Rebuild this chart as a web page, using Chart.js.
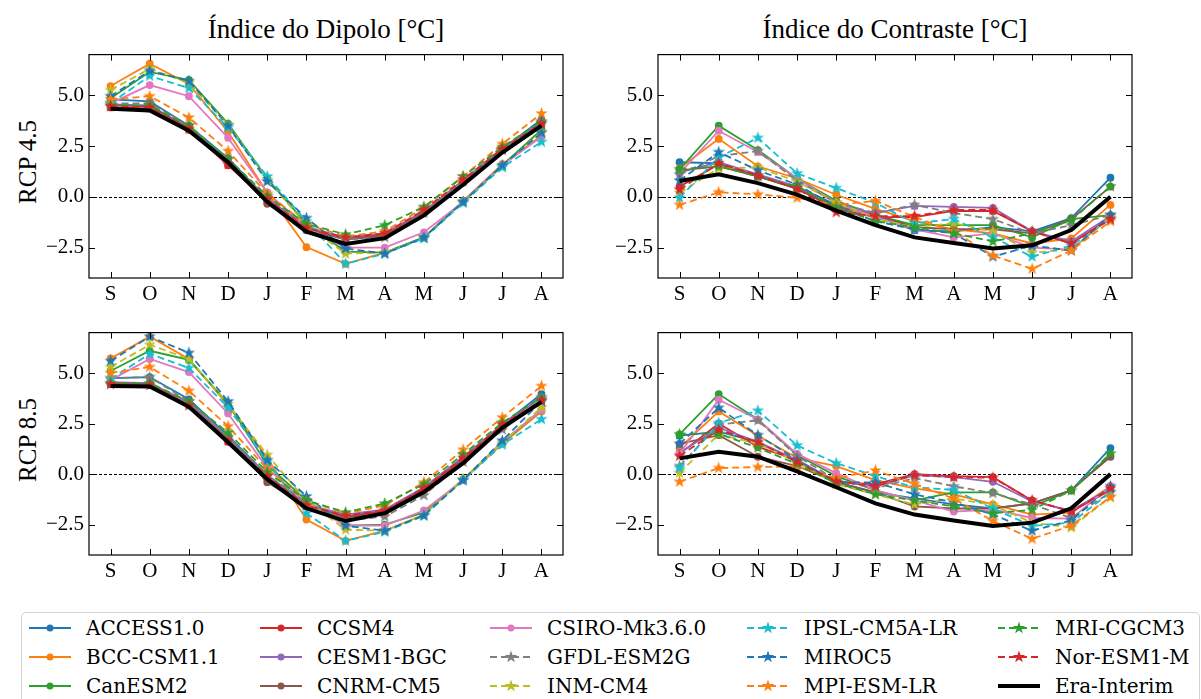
<!DOCTYPE html>
<html lang="pt">
<head>
<meta charset="UTF-8">
<title>Índice do Dipolo e Índice do Contraste</title>
<style>
  body { margin: 0; background: #fff; width: 1201px; height: 699px; overflow: hidden; position: relative; font-family: "Liberation Serif", serif; color: #000; }
  canvas.panel { position: absolute; }
  .title { position: absolute; top: 12px; font-size: 27px; line-height: 34px; text-align: center; white-space: nowrap; }
  .rowlab { position: absolute; font-size: 25px; white-space: nowrap; transform: translate(-50%, -50%) rotate(-90deg); }
  #legend { position: absolute; left: 21px; top: 612px; width: 1177px; height: 110px; border: 1px solid #d3d3d3; border-radius: 5px; font-family: "DejaVu Serif", serif; font-size: 20px; }
  .item { position: absolute; display: flex; align-items: center; height: 26px; white-space: nowrap; }
  .item span { margin-left: 15px; }
</style>
</head>
<body>
<script src="https://cdn.jsdelivr.net/npm/chart.js"></script>

<div class="title" style="left:89px; width:474px;">Índice do Dipolo [°C]</div>
<div class="title" style="left:658px; width:474px;">Índice do Contraste [°C]</div>
<div class="rowlab" style="left:28px; top:162px;">RCP 4.5</div>
<div class="rowlab" style="left:28px; top:440px;">RCP 8.5</div>
<div id="legend"></div>

<script>
// months (x tick labels) and y ticks
const months = ['S', 'O', 'N', 'D', 'J', 'F', 'M', 'A', 'M', 'J', 'J', 'A'];
const yTicks = [-2.5, 0, 2.5, 5];

const models = ['ACCESS1.0', 'BCC-CSM1.1', 'CanESM2', 'CCSM4', 'CESM1-BGC', 'CNRM-CM5',
  'CSIRO-Mk3.6.0', 'GFDL-ESM2G', 'INM-CM4', 'IPSL-CM5A-LR', 'MIROC5', 'MPI-ESM-LR',
  'MRI-CGCM3', 'Nor-ESM1-M', 'Era-Interim'];
const colors = ['#1f77b4', '#ff7f0e', '#2ca02c', '#d62728', '#9467bd', '#8c564b',
  '#e377c2', '#7f7f7f', '#bcbd22', '#17becf', '#1f77b4', '#ff7f0e',
  '#2ca02c', '#d62728', '#000000'];
// 'dot' = solid line with dots, 'star' = dashed line with stars, 'ref' = reanalysis
const kinds = ['dot', 'dot', 'dot', 'dot', 'dot', 'dot', 'dot',
  'star', 'star', 'star', 'star', 'star', 'star', 'star', 'ref'];

// one row per model, same order as models[]
const dipoloRcp45 = [
  [4.80, 4.70, 3.50, 1.90, -0.10, -1.50, -2.10, -1.90, -0.75, 0.80, 2.35, 3.80],
  [5.45, 6.55, 5.55, 3.20, 0.20, -2.48, -3.30, -2.75, -2.00, -0.20, 1.60, 3.00],
  [4.85, 6.15, 5.75, 3.60, 0.90, -1.35, -2.70, -2.75, -2.00, -0.25, 1.55, 3.30],
  [4.40, 4.35, 3.30, 1.55, -0.20, -1.60, -2.05, -1.85, -0.75, 0.75, 2.30, 3.60],
  [4.55, 4.50, 3.40, 1.80, -0.10, -1.50, -2.00, -1.80, -0.70, 0.80, 2.40, 3.70],
  [4.50, 4.45, 3.40, 1.75, -0.35, -1.65, -2.10, -1.95, -0.80, 0.70, 2.30, 3.60],
  [4.60, 5.50, 4.95, 2.90, 0.20, -1.50, -2.50, -2.50, -1.75, -0.25, 1.55, 2.95],
  [4.60, 4.60, 3.50, 1.85, 0.00, -1.45, -2.10, -2.00, -0.80, 0.75, 2.30, 3.65],
  [5.25, 6.30, 5.60, 3.55, 0.85, -1.40, -2.80, -2.75, -2.00, -0.25, 1.50, 3.20],
  [4.60, 5.95, 5.35, 3.40, 1.00, -1.20, -3.30, -2.80, -2.05, -0.30, 1.45, 2.70],
  [4.95, 6.20, 5.70, 3.50, 0.75, -1.05, -2.55, -2.80, -2.00, -0.25, 1.55, 3.15],
  [4.80, 4.95, 3.90, 2.25, 0.15, -1.35, -1.95, -1.70, -0.55, 1.00, 2.60, 4.10],
  [4.50, 4.50, 3.50, 1.85, 0.05, -1.35, -1.85, -1.40, -0.50, 1.00, 2.45, 3.70],
  [4.45, 4.40, 3.35, 1.60, -0.10, -1.55, -2.00, -1.80, -0.65, 0.85, 2.35, 3.60],
  [4.33, 4.25, 3.25, 1.70, -0.25, -1.72, -2.32, -2.04, -0.92, 0.59, 2.18, 3.50]
];

const contrasteRcp45 = [
  [1.70, 1.65, 1.00, 0.50, -0.40, -0.95, -1.65, -1.70, -1.50, -1.70, -1.05, 0.94],
  [1.40, 2.85, 1.50, 0.90, 0.10, -0.60, -1.20, -1.60, -1.80, -2.30, -2.05, -0.40],
  [1.35, 3.50, 2.30, 0.90, -0.20, -0.90, -1.40, -1.40, -1.40, -2.00, -1.10, -0.90],
  [0.50, 1.60, 1.00, 0.40, -0.60, -1.00, -1.00, -0.70, -0.70, -1.70, -2.30, -1.05],
  [1.20, 1.70, 1.10, 0.50, -0.50, -0.80, -0.45, -0.50, -0.55, -1.70, -2.20, -0.95],
  [1.30, 1.50, 1.00, 0.40, -0.50, -0.90, -1.50, -1.60, -1.60, -1.80, -1.10, 0.50],
  [1.15, 3.25, 2.20, 0.90, -0.30, -1.00, -1.60, -2.00, -1.80, -2.50, -2.60, -1.00],
  [1.10, 2.00, 2.25, 0.80, -0.30, -0.80, -0.40, -0.80, -1.10, -1.80, -1.40, -0.90],
  [0.20, 1.40, 1.45, 0.75, -0.30, -1.10, -1.50, -1.30, -1.70, -2.75, -2.60, -1.00],
  [-0.05, 1.95, 2.90, 1.15, 0.43, -0.30, -1.30, -1.10, -2.00, -2.95, -2.40, -1.10],
  [0.80, 2.20, 1.30, 0.60, -0.50, -1.20, -1.60, -1.80, -2.95, -2.40, -2.65, -0.90],
  [-0.40, 0.22, 0.12, -0.05, -0.40, -0.20, -1.00, -1.70, -2.90, -3.55, -2.65, -1.20],
  [1.35, 1.50, 1.00, 0.50, -0.50, -1.20, -1.50, -1.80, -2.20, -1.80, -1.15, 0.51],
  [0.35, 1.65, 1.05, 0.40, -0.76, -0.95, -0.95, -0.65, -0.65, -1.70, -2.30, -1.10],
  [0.78, 1.11, 0.67, 0.11, -0.68, -1.40, -2.00, -2.28, -2.55, -2.39, -1.64, 0.00]
];

const dipoloRcp85 = [
  [4.75, 4.80, 3.70, 1.90, -0.05, -1.50, -2.10, -1.80, -0.75, 0.80, 2.45, 3.96],
  [5.72, 6.80, 5.70, 3.40, 0.80, -2.25, -3.30, -2.80, -2.00, -0.25, 1.50, 3.10],
  [5.10, 6.10, 5.65, 3.50, 0.45, -1.30, -2.55, -2.50, -1.90, -0.30, 1.55, 3.20],
  [4.45, 4.40, 3.40, 1.60, -0.15, -1.60, -2.10, -1.85, -0.70, 0.70, 2.40, 3.65],
  [4.55, 4.50, 3.55, 1.80, -0.10, -1.50, -2.00, -1.75, -0.65, 0.85, 2.45, 3.80],
  [4.50, 4.45, 3.45, 1.70, -0.40, -1.60, -2.15, -1.90, -0.80, 0.65, 2.30, 3.60],
  [4.65, 5.70, 5.05, 3.00, 0.30, -1.45, -2.55, -2.55, -1.80, -0.30, 1.60, 3.17],
  [4.75, 4.80, 3.60, 1.85, -0.05, -1.40, -2.30, -2.10, -1.05, 0.60, 2.20, 3.70],
  [5.30, 6.40, 5.70, 3.45, 0.95, -1.30, -2.75, -2.80, -2.00, -0.25, 1.55, 3.30],
  [4.70, 5.95, 5.25, 3.30, 0.60, -1.93, -3.30, -2.85, -2.05, -0.30, 1.45, 2.72],
  [5.60, 6.80, 6.00, 3.60, 0.70, -1.10, -2.55, -2.80, -2.05, -0.30, 1.66, 3.60],
  [5.00, 5.30, 4.12, 2.37, 0.25, -1.30, -1.95, -1.55, -0.41, 1.21, 2.80, 4.36],
  [4.50, 4.50, 3.60, 2.05, 0.10, -1.30, -1.89, -1.45, -0.50, 0.97, 2.55, 3.80],
  [4.45, 4.40, 3.40, 1.65, -0.10, -1.55, -2.05, -1.80, -0.70, 0.80, 2.45, 3.65],
  [4.36, 4.33, 3.33, 1.58, -0.25, -1.69, -2.32, -1.93, -0.89, 0.54, 2.29, 3.57]
];

const contrasteRcp85 = [
  [1.90, 2.10, 1.60, 0.60, -0.40, -0.90, -1.20, -1.50, -1.70, -1.45, -0.80, 1.29],
  [1.30, 3.10, 1.90, 0.80, 0.40, -0.30, -0.70, -1.00, -1.50, -2.00, -1.90, -0.60],
  [1.97, 3.96, 2.70, 0.95, -0.10, -0.80, -1.30, -0.90, -0.90, -1.60, -0.81, 0.95],
  [1.00, 2.50, 1.35, 0.70, -0.40, -0.50, 0.00, -0.10, -0.15, -1.30, -1.85, -0.80],
  [1.05, 2.30, 1.60, 0.70, -0.35, -0.60, -0.05, -0.15, -0.38, -1.35, -1.80, -0.70],
  [1.50, 1.93, 0.86, 0.40, -0.40, -0.90, -1.60, -1.70, -1.70, -1.45, -0.80, 0.86],
  [1.00, 3.68, 2.70, 1.00, 0.05, -0.80, -1.30, -1.85, -1.75, -2.17, -2.20, -0.60],
  [0.40, 2.45, 2.66, 0.90, -0.30, -0.70, -0.20, -0.60, -0.94, -1.50, -2.17, -0.90],
  [0.06, 1.97, 1.50, 0.60, -0.50, -1.00, -1.50, -1.20, -1.53, -2.40, -2.64, -1.13],
  [0.30, 2.53, 3.14, 1.42, 0.54, -0.10, -0.65, -0.78, -1.70, -2.56, -2.40, -0.90],
  [1.50, 3.28, 1.93, 0.70, -0.40, -0.41, -1.00, -1.40, -2.00, -2.80, -2.30, -0.60],
  [-0.38, 0.30, 0.35, 0.38, -0.20, 0.18, -0.49, -1.21, -2.32, -3.20, -2.55, -1.13],
  [1.97, 2.00, 1.30, 0.50, -0.45, -1.00, -1.30, -1.60, -1.93, -1.77, -0.81, 1.02],
  [0.90, 2.20, 1.58, 0.60, -0.35, -0.60, -0.05, -0.15, -0.18, -1.29, -1.85, -0.70],
  [0.78, 1.10, 0.86, 0.14, -0.65, -1.45, -2.00, -2.29, -2.56, -2.40, -1.69, 0.00]
];

// plot boxes [left, top, right, bottom] in page pixels
const panels = [
  { data: dipoloRcp45, box: [89, 47, 563, 278] },
  { data: contrasteRcp45, box: [658, 47, 1132, 278] },
  { data: dipoloRcp85, box: [89, 325, 563, 555] },
  { data: contrasteRcp85, box: [658, 325, 1132, 555] }
];

const YAXIS_W = 80, XAXIS_H = 40, PAD = 10;
const tickFont = { family: 'Liberation Serif', size: 21 };

function starImage(color, size) {
  const c = document.createElement('canvas');
  c.width = c.height = size;
  const g = c.getContext('2d');
  const m = size / 2, ro = size / 2 - 1, ri = ro * 0.4;
  g.fillStyle = color;
  g.beginPath();
  for (let k = 0; k < 10; k++) {
    const r = k % 2 ? ri : ro;
    const a = -Math.PI / 2 + k * Math.PI / 5;
    g.lineTo(m + r * Math.cos(a), m + r * Math.sin(a));
  }
  g.closePath();
  g.fill();
  return c;
}
const stars = colors.map(c => starImage(c, 15));

// frame, inward ticks on all sides, dashed zero line
const framePlugin = {
  id: 'frame',
  beforeDatasetsDraw(chart) {
    const { ctx, chartArea: a, scales: { y } } = chart;
    const y0 = Math.round(y.getPixelForValue(0)) + 0.5;
    ctx.save();
    ctx.strokeStyle = '#000';
    ctx.lineWidth = 1;
    ctx.setLineDash([3, 2]);
    ctx.beginPath();
    ctx.moveTo(a.left, y0);
    ctx.lineTo(a.right, y0);
    ctx.stroke();
    ctx.restore();
  },
  afterDraw(chart) {
    const { ctx, chartArea: a, scales: { x, y } } = chart;
    ctx.save();
    ctx.strokeStyle = '#000';
    ctx.lineWidth = 1.2;
    ctx.strokeRect(a.left, a.top, a.right - a.left, a.bottom - a.top);
    ctx.lineWidth = 1;
    ctx.beginPath();
    x.ticks.forEach(t => {
      const px = Math.round(x.getPixelForValue(t.value)) + 0.5;
      ctx.moveTo(px, a.bottom); ctx.lineTo(px, a.bottom - 6);
      ctx.moveTo(px, a.top); ctx.lineTo(px, a.top + 6);
    });
    y.ticks.forEach(t => {
      const py = Math.round(y.getPixelForValue(t.value)) + 0.5;
      ctx.moveTo(a.left, py); ctx.lineTo(a.left + 6, py);
      ctx.moveTo(a.right, py); ctx.lineTo(a.right - 6, py);
    });
    ctx.stroke();
    ctx.restore();
  }
};

function makeDatasets(rows) {
  return rows.map((vals, i) => {
    const kind = kinds[i];
    return {
      label: models[i],
      data: vals.map((v, k) => ({ x: k, y: v })),
      borderColor: colors[i],
      backgroundColor: colors[i],
      borderWidth: kind === 'ref' ? 4 : 1.8,
      borderDash: kind === 'star' ? [7, 4] : [],
      pointStyle: kind === 'star' ? stars[i] : 'circle',
      pointRadius: kind === 'ref' ? 0 : 3,
      pointHoverRadius: kind === 'ref' ? 0 : 3,
      tension: 0,
      order: kind === 'ref' ? 0 : rows.length - 1 - i
    };
  });
}

panels.forEach(p => {
  const [L, T, R, B] = p.box;
  const cv = document.createElement('canvas');
  cv.className = 'panel';
  cv.width = (R - L) + YAXIS_W + PAD;
  cv.height = (B - T) + XAXIS_H + PAD;
  cv.style.left = (L - YAXIS_W) + 'px';
  cv.style.top = (T - PAD) + 'px';
  document.body.appendChild(cv);

  new Chart(cv, {
    type: 'line',
    data: { datasets: makeDatasets(p.data) },
    options: {
      responsive: false,
      animation: false,
      layout: { padding: { left: 0, top: PAD, right: PAD, bottom: 0 } },
      plugins: { legend: { display: false }, tooltip: { enabled: false } },
      scales: {
        x: {
          type: 'linear', min: -0.55, max: 11.55,
          grid: { display: false, drawTicks: false }, border: { display: false },
          afterBuildTicks: s => { s.ticks = months.map((m, i) => ({ value: i })); },
          afterFit: s => { s.height = XAXIS_H; },
          ticks: { callback: v => months[v], font: tickFont, color: '#000', padding: 4, maxRotation: 0, autoSkip: false }
        },
        y: {
          type: 'linear', min: -4, max: 7,
          grid: { display: false, drawTicks: false }, border: { display: false },
          afterBuildTicks: s => { s.ticks = yTicks.map(v => ({ value: v })); },
          afterFit: s => { s.width = YAXIS_W; },
          ticks: { callback: v => (v < 0 ? '\u2212' : '') + Math.abs(v).toFixed(1), font: tickFont, color: '#000', padding: 5 }
        }
      }
    },
    plugins: [framePlugin]
  });
});

// legend, column-major in 5 columns
const legCols = [29, 260, 490, 747, 998];
const legRows = [628, 657, 686];
const legend = document.getElementById('legend');
function starPath(cx, cy, ro, ri) {
  const pts = [];
  for (let k = 0; k < 10; k++) {
    const r = k % 2 ? ri : ro;
    const a = -Math.PI / 2 + k * Math.PI / 5;
    pts.push((cx + r * Math.cos(a)).toFixed(2) + ',' + (cy + r * Math.sin(a)).toFixed(2));
  }
  return pts.join(' ');
}
models.forEach((name, i) => {
  const col = Math.floor(i / 3), row = i % 3;
  const kind = kinds[i];
  const item = document.createElement('div');
  item.className = 'item';
  item.style.left = (legCols[col] - 22) + 'px';
  item.style.top = (legRows[row] - 612 - 14) + 'px';
  let marker = '';
  if (kind === 'dot') marker = `<circle cx="21" cy="10" r="3.5" fill="${colors[i]}"/>`;
  if (kind === 'star') marker = `<polygon points="${starPath(21, 10, 6.5, 2.6)}" fill="${colors[i]}"/>`;
  const dash = kind === 'star' ? 'stroke-dasharray="7,4"' : '';
  const lw = kind === 'ref' ? 4 : 2;
  item.innerHTML = `<svg width="42" height="20"><line x1="0" y1="10" x2="42" y2="10" stroke="${colors[i]}" stroke-width="${lw}" ${dash}/>${marker}</svg><span>${name}</span>`;
  legend.appendChild(item);
});
</script>
</body>
</html>
